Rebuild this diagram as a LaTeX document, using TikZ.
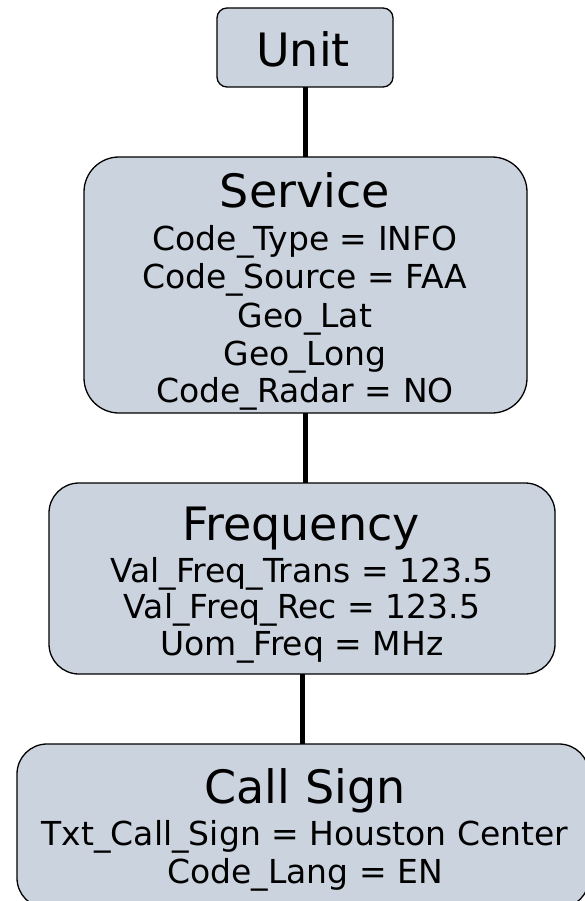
\documentclass[tikz,border=0pt]{standalone}
\usepackage{fontspec}
\setmainfont{DejaVu Sans}
\definecolor{boxfill}{RGB}{203,211,222}
\begin{document}
\begin{tikzpicture}[x=1pt,y=-1pt,
  box/.style={draw=black, line width=1.3pt, fill=boxfill, inner sep=0pt, outer sep=0pt},
  ttl/.style={anchor=base, inner sep=0pt, font=\fontsize{46}{50}\selectfont},
  bdy/.style={anchor=base, inner sep=0pt, font=\fontsize{33}{37}\selectfont},
  link/.style={line width=5pt}]
\useasboundingbox (0,0) rectangle (585,901);
% boxes
\node[box, rounded corners=10pt, minimum width=176pt, minimum height=79pt] (unit) at (305,47.5) {};
\node[box, rounded corners=35pt, minimum width=443pt, minimum height=256pt] (service) at (305.5,285) {};
\node[box, rounded corners=30pt, minimum width=506pt, minimum height=191pt] (freq) at (302,578.5) {};
\node[box, rounded corners=30pt, minimum width=572pt, minimum height=164pt] (call) at (303,826) {};
% connectors
\draw[link] (unit.south) -- (unit.south |- service.north);
\draw[link] (service.south) -- (service.south |- freq.north);
\draw[link] (freq.south) -- (freq.south |- call.north);
% texts
\node[ttl] (tunit) at (303,67) {Unit};
\node[ttl] (tserv) at (305,208) {Service};
\node[bdy] (s1) at (305,250) {Code\_Type = INFO};
\node[bdy] (s2) at (305,288) {Code\_Source = FAA};
\node[bdy] (s3) at (305,327) {Geo\_Lat};
\node[bdy] (s4) at (305,365) {Geo\_Long};
\node[bdy] (s5) at (305,402) {Code\_Radar = NO};
\node[ttl] (tfreq) at (301,540) {Frequency};
\node[bdy] (f1) at (302,582) {Val\_Freq\_Trans = 123.5};
\node[bdy] (f2) at (302,618) {Val\_Freq\_Rec = 123.5};
\node[bdy] (f3) at (302,655) {Uom\_Freq = MHz};
\node[ttl] (tcall) at (305,803) {Call Sign};
\node[bdy] (c1) at (305,845) {Txt\_Call\_Sign = Houston Center};
\node[bdy] (c2) at (305,883) {Code\_Lang = EN};
\end{tikzpicture}
\end{document}
